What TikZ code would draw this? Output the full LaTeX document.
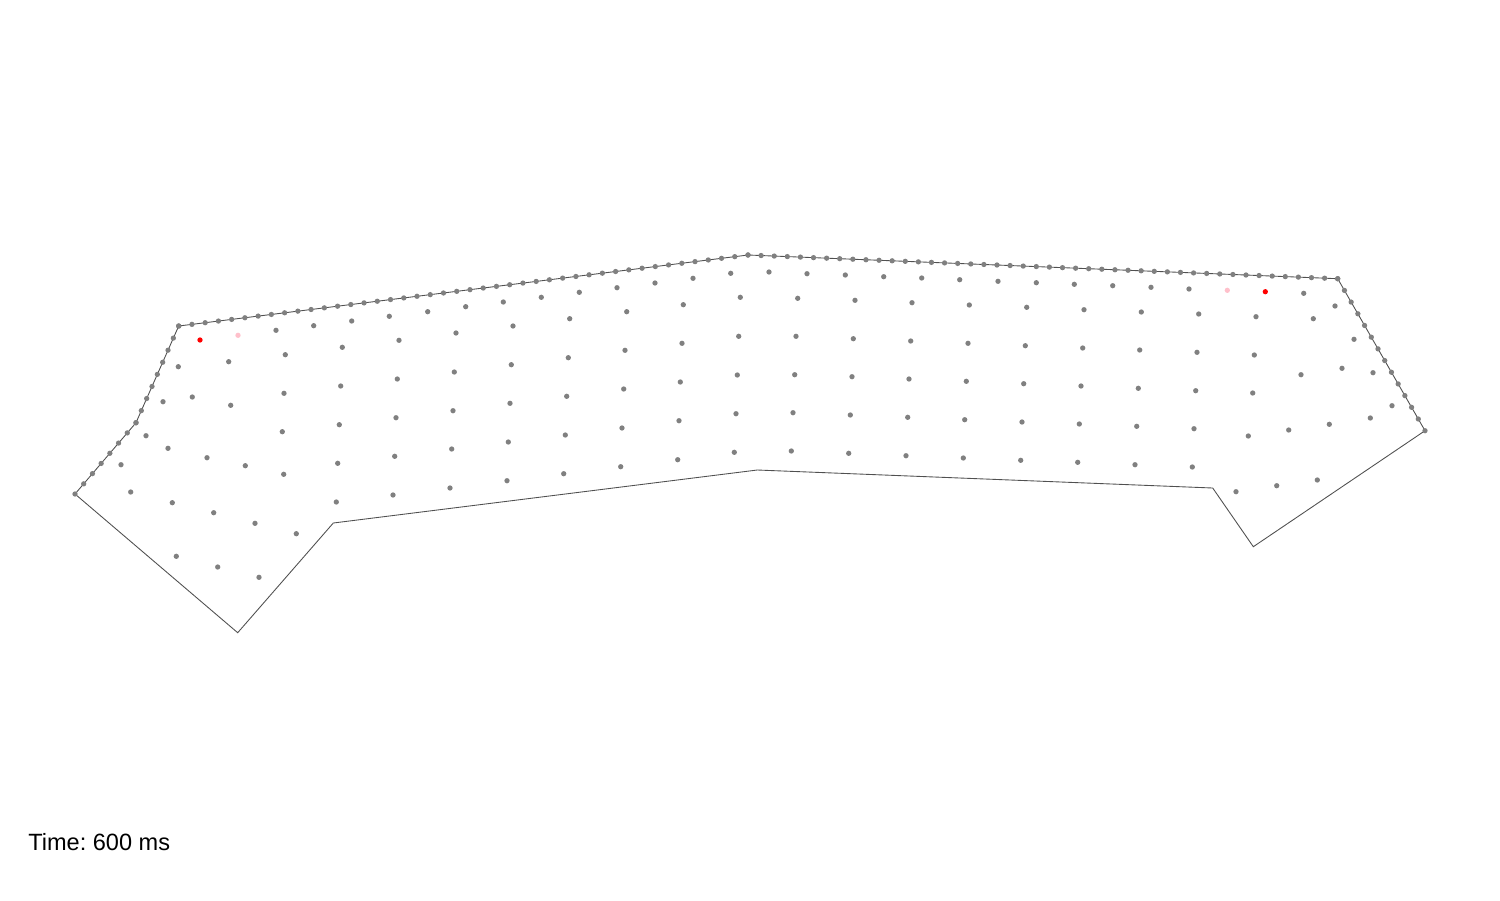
\documentclass[tikz,border=0pt]{standalone}
\usepackage{fontspec}
\setmainfont{Liberation Sans}
\usetikzlibrary{calc}
\frenchspacing
\definecolor{dotgray}{RGB}{128,128,128}
\definecolor{dotred}{RGB}{255,0,0}
\definecolor{dotpink}{RGB}{255,192,203}
\definecolor{edgec}{RGB}{80,80,80}
\tikzset{
  meshdot/.style={fill=dotgray},
  edgeline/.style={draw=edgec,line width=0.5pt,line join=miter},
}
\begin{document}
\begin{tikzpicture}[x=0.02cm,y=-0.02cm]
\useasboundingbox (0,0) rectangle (1500,900);
% corners
\coordinate (A) at (75,494);
\coordinate (B) at (136,422.7);
\coordinate (C) at (178.7,326);
\coordinate (D) at (748,255);
\coordinate (E) at (1337.7,278.7);
\coordinate (F) at (1425,430.7);
\coordinate (G) at (1253.3,546.7);
\coordinate (H) at (1212.7,488);
\coordinate (I) at (757.3,470);
\coordinate (J) at (333.3,523);
\coordinate (K) at (237.7,632.7);
\path[edgeline] (A) -- (B) -- (C) -- (D) -- (E) -- (F) -- (G) -- (H) -- (I) -- (J) -- (K) -- cycle;
% boundary dots
\foreach \i in {0,...,7} \fill[meshdot] ($(A)!\i/7!(B)$) circle[radius=0.053cm];
\foreach \i in {0,...,8} \fill[meshdot] ($(B)!\i/8!(C)$) circle[radius=0.053cm];
\foreach \i in {0,...,43} \fill[meshdot] ($(C)!\i/43!(D)$) circle[radius=0.053cm];
\foreach \i in {0,...,45} \fill[meshdot] ($(D)!\i/45!(E)$) circle[radius=0.053cm];
\foreach \i in {0,...,13} \fill[meshdot] ($(E)!\i/13!(F)$) circle[radius=0.053cm];
% interior dots
\foreach \x/\y in {
276/330.3, 313.7/325.7, 351.7/321, 389.3/316.3, 427.7/311.7, 465.7/306.7, 503.3/302,
541.3/297.3, 579.3/292.3, 617/287.7, 655/283, 693/278.3, 730.7/273.3,
769/272, 807/273.7, 845.3/275, 883.7/276.7, 921.7/278, 959.7/279.7,
998/281.3, 1036.3/282.7, 1074.3/284.3, 1112.7/285.7, 1151/287.3, 1189/289, 1303.7/293.3, 1335/306,
178.3/366.7, 228.7/361.7, 285.3/354.7, 342.3/347.3, 399/340.3, 456/333, 513/326, 569.7/318.7, 626.7/311.7, 683.3/304.7, 740.3/297.3, 797.7/298.3, 855/300.3, 912/302.7, 969.3/305, 1026.7/307.3, 1084/309.7, 1141.3/312, 1198.7/314, 1256/316.7, 1313.3/318.7, 1354/339.3,
163/401.7, 192.3/397, 230.7/405.3, 284/393.3, 340.7/386, 397.3/379, 454.3/372, 511.3/364.7, 568.3/357.7, 625/350.3, 682/343.3, 738.7/336.3, 796/336.3, 853.3/338.7, 910.7/341, 968/343.3, 1025.3/345.7, 1082.7/348, 1139.7/350, 1197/352.3, 1254.3/355, 1342/368.3, 1373/372.7, 1301/374.7,
146/435.7, 282.3/431.7, 339.3/424.7, 396/417.7, 453/410.7, 510/403.3, 566.7/396.3, 623.7/389, 680.3/382, 737.3/375, 794.7/374.7, 852/376.7, 909/379, 966.3/381.3, 1023.7/383.7, 1081/386, 1138.3/388.3, 1195.7/390.7, 1252.7/393, 1392/405.7,
168/448.3, 207/457.7, 245.3/465.7, 283.7/474.3, 121/464.7, 337.7/463.3, 394.7/456.3, 451.7/449, 508.3/442, 565.3/435, 622/428, 679/420.7, 736/413.7, 793/412.7, 850.3/415, 907.7/417.3, 964.7/419.7, 1022/422, 1079.3/424, 1136.7/426.3, 1194/428.7, 1248.3/436, 1288.7/430, 1329.3/424.3, 1370.3/418,
130.7/492, 172.3/502.7, 213.7/512.7, 255/523.3, 296.3/533.7, 336.3/502, 393/495, 450/488, 507/480.7, 563.7/473.7, 620.7/466.7, 677.7/459.7, 734.3/452.3, 791.3/451, 848.7/453.3, 906/455.7, 963.3/458, 1020.7/460.3, 1077.7/462.3, 1135/464.7, 1192.3/467, 1236/491.7, 1276.7/485.7, 1317.3/480,
176.3/556.3, 217.7/567, 259/577.3}
  \fill[meshdot] (\x,\y) circle[radius=0.053cm];
% highlighted dots
\fill[dotred] (200,340) circle[radius=0.053cm];
\fill[dotpink] (238,335.3) circle[radius=0.053cm];
\fill[dotpink] (1227.3,290.3) circle[radius=0.053cm];
\fill[dotred] (1265.3,291.7) circle[radius=0.053cm];
% time label
\node[anchor=base west,inner sep=0pt,font=\fontsize{13.4}{16}\selectfont] (time) at (28,850) {Time: 600 ms};
\end{tikzpicture}
\end{document}
